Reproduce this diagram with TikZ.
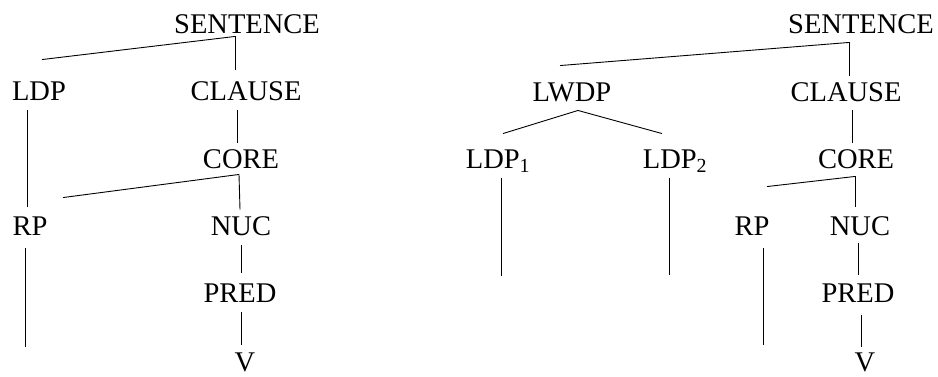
\documentclass[tikz,border=0pt]{standalone}
\usepackage{fontspec}
\setmainfont{Liberation Serif}
\begin{document}
\begin{tikzpicture}[x=1pt,y=-1pt,line width=.9pt,
  cat/.style={inner sep=0pt,text height=19pt,text depth=0pt,anchor=base,
    font=\fontsize{28.5}{30}\selectfont}]
\useasboundingbox (0,0) rectangle (938,376);
% left tree
\node[cat] (lsent) at (247,33) {SENTENCE};
\node[cat] (lldp) at (39,100) {LDP};
\node[cat] (lclause) at (246,100) {CLAUSE};
\node[cat] (lcore) at (241,168) {CORE};
\node[cat] (lrp) at (30,235) {RP};
\node[cat] (lnuc) at (241,235) {NUC};
\node[cat] (lpred) at (240,302) {PRED};
\node[cat] (lv) at (245,371) {V};
\coordinate (lrpend) at (25,347);
\draw ([shift={(-12,3)}]lsent.south)--([shift={(3,-21)}]lldp.north);
\draw ([shift={(-12,3)}]lsent.south)--([shift={(-11,-11)}]lclause.north);
\draw ([shift={(-12,10)}]lldp.south)--([shift={(-3,-9)}]lrp.north);
\draw ([shift={(-9,10)}]lclause.south)--([shift={(-4,-6)}]lcore.north);
\draw ([shift={(-2,6)}]lcore.south)--([shift={(33,-18)}]lrp.north);
\draw ([shift={(-2,6)}]lcore.south)--([shift={(-1,-6)}]lnuc.north);
\draw ([shift={(-5,13)}]lrp.south)--(lrpend);
\draw ([shift={(0,10)}]lnuc.south)--([shift={(1,-10)}]lpred.north);
\draw ([shift={(1,10)}]lpred.south)--([shift={(-4,-7)}]lv.north);
% right tree
\node[cat] (rsent) at (861,33) {SENTENCE};
\node[cat] (rlwdp) at (572,101) {LWDP};
\node[cat] (rclause) at (846,101) {CLAUSE};
\node[cat] (rldpa) at (498,168) {LDP\textsubscript{1}};
\node[cat] (rldpb) at (675,168) {LDP\textsubscript{2}};
\node[cat] (rcore) at (856,168) {CORE};
\node[cat] (rrp) at (752,235) {RP};
\node[cat] (rnuc) at (860,235) {NUC};
\node[cat] (rpred) at (858,302) {PRED};
\node[cat] (rv) at (865,371) {V};
\coordinate (rldpaend) at (501,276);
\coordinate (rldpbend) at (669,275);
\coordinate (rrpend) at (763,345);
\draw ([shift={(-12,9)}]rsent.south)--([shift={(-12,-16)}]rlwdp.north);
\draw ([shift={(-12,9)}]rsent.south)--([shift={(3,-6)}]rclause.north);
\draw ([shift={(6,9)}]rlwdp.south)--([shift={(5,-15)}]rldpa.north);
\draw ([shift={(6,9)}]rlwdp.south)--([shift={(-13,-15)}]rldpb.north);
\draw ([shift={(6,9)}]rclause.south)--([shift={(-4,-6)}]rcore.north);
\draw ([shift={(3,10)}]rldpa.south)--(rldpaend);
\draw ([shift={(-6,10)}]rldpb.south)--(rldpbend);
\draw ([shift={(-1,8)}]rcore.south)--([shift={(15,-29)}]rrp.north);
\draw ([shift={(-1,8)}]rcore.south)--([shift={(-5,-9)}]rnuc.north);
\draw ([shift={(11,13)}]rrp.south)--(rrpend);
\draw ([shift={(-2,8)}]rnuc.south)--([shift={(0,-8)}]rpred.north);
\draw ([shift={(3,13)}]rpred.south)--([shift={(-4,-5)}]rv.north);
\end{tikzpicture}
\end{document}
